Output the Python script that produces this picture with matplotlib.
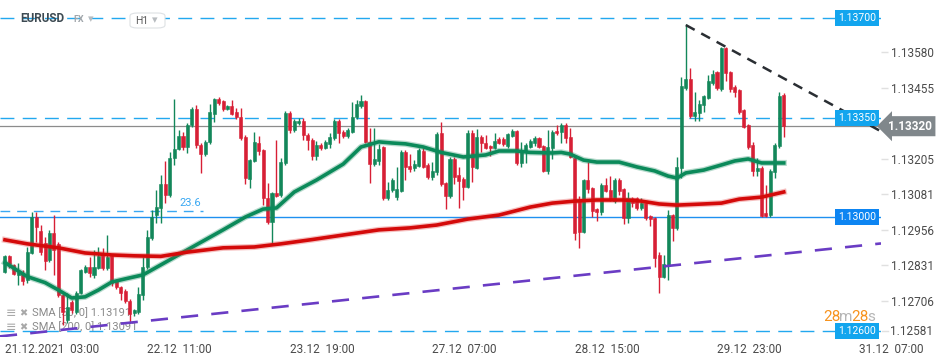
import matplotlib
matplotlib.use('Agg')
import matplotlib.pyplot as plt
import matplotlib.transforms as mtrans
from matplotlib.patches import FancyBboxPatch
import numpy as np

plt.rcParams['font.family'] = ['Roboto', 'DejaVu Sans']

# hourly EURUSD candles (open, high, low, close)
opens = [
    1.12808, 1.12865, 1.12834, 1.12798, 1.12806, 1.12780, 1.12875, 1.13001, 1.12952, 1.12910,
    1.12850, 1.12945, 1.12907, 1.12728, 1.12640, 1.12703, 1.12668, 1.12735, 1.12808, 1.12826,
    1.12798, 1.12822, 1.12875, 1.12822, 1.12865, 1.12775, 1.12757, 1.12740, 1.12707, 1.12664,
    1.12668, 1.12728, 1.12827, 1.12926, 1.13008, 1.13032, 1.13117, 1.13079, 1.13208, 1.13240,
    1.13286, 1.13246, 1.13324, 1.13380, 1.13254, 1.13222, 1.13264, 1.13363, 1.13416, 1.13408,
    1.13380, 1.13391, 1.13370, 1.13353, 1.13283, 1.13135, 1.13199, 1.13260, 1.13236, 1.13067,
    1.12985, 1.13085, 1.13079, 1.13190, 1.13365, 1.13307, 1.13331, 1.13338, 1.13289, 1.13272,
    1.13216, 1.13254, 1.13245, 1.13258, 1.13278, 1.13338, 1.13300, 1.13287, 1.13300, 1.13351,
    1.13391, 1.13408, 1.13266, 1.13187, 1.13199, 1.13247, 1.13067, 1.13096, 1.13073, 1.13093,
    1.13228, 1.13180, 1.13174, 1.13182, 1.13233, 1.13184, 1.13142, 1.13158, 1.13296, 1.13120,
    1.13076, 1.13205, 1.13149, 1.13134, 1.13108, 1.13296, 1.13174, 1.13281, 1.13260, 1.13250,
    1.13245, 1.13275, 1.13275, 1.13252, 1.13287, 1.13303, 1.13192, 1.13229, 1.13248, 1.13262,
    1.13278, 1.13250, 1.13163, 1.13245, 1.13303, 1.13299, 1.13324, 1.13282, 1.13207, 1.13061,
    1.12950, 1.13131, 1.13102, 1.13028, 1.13018, 1.13114, 1.13096, 1.13058, 1.13131, 1.13098,
    1.12997, 1.13067, 1.13067, 1.13032, 1.13050, 1.13005, 1.12997, 1.12868, 1.12792, 1.12830,
    1.13008, 1.12962, 1.13174, 1.13455, 1.13486, 1.13357, 1.13366, 1.13394, 1.13420, 1.13471,
    1.13509, 1.13451, 1.13593, 1.13509, 1.13459, 1.13447, 1.13377, 1.13324, 1.13254, 1.13164,
    1.13172, 1.13014, 1.13008, 1.13160, 1.13252, 1.13430,
]
highs = [
    1.12868, 1.12868, 1.12838, 1.12840, 1.12815, 1.12896, 1.13019, 1.13020, 1.12973, 1.12931,
    1.12956, 1.13008, 1.12915, 1.12732, 1.12735, 1.12710, 1.12740, 1.12820, 1.12833, 1.12862,
    1.12886, 1.12896, 1.12893, 1.12937, 1.12870, 1.12780, 1.12760, 1.12748, 1.12712, 1.12680,
    1.12757, 1.12862, 1.12956, 1.13026, 1.13096, 1.13149, 1.13198, 1.13231, 1.13416, 1.13307,
    1.13301, 1.13330, 1.13386, 1.13395, 1.13260, 1.13270, 1.13398, 1.13420, 1.13422, 1.13412,
    1.13395, 1.13412, 1.13385, 1.13385, 1.13288, 1.13205, 1.13299, 1.13287, 1.13240, 1.13120,
    1.13090, 1.13272, 1.13208, 1.13372, 1.13373, 1.13345, 1.13350, 1.13350, 1.13297, 1.13280,
    1.13268, 1.13260, 1.13270, 1.13296, 1.13345, 1.13345, 1.13305, 1.13312, 1.13404, 1.13412,
    1.13430, 1.13412, 1.13315, 1.13315, 1.13256, 1.13252, 1.13125, 1.13137, 1.13178, 1.13235,
    1.13235, 1.13222, 1.13201, 1.13243, 1.13243, 1.13190, 1.13195, 1.13300, 1.13334, 1.13125,
    1.13212, 1.13212, 1.13178, 1.13140, 1.13307, 1.13305, 1.13310, 1.13288, 1.13289, 1.13255,
    1.13296, 1.13282, 1.13282, 1.13296, 1.13310, 1.13305, 1.13264, 1.13260, 1.13275, 1.13285,
    1.13283, 1.13255, 1.13305, 1.13307, 1.13324, 1.13330, 1.13330, 1.13313, 1.13212, 1.13075,
    1.13135, 1.13193, 1.13107, 1.13032, 1.13120, 1.13137, 1.13145, 1.13137, 1.13137, 1.13103,
    1.13090, 1.13072, 1.13072, 1.13067, 1.13055, 1.13010, 1.13001, 1.12880, 1.12868, 1.13026,
    1.13013, 1.13213, 1.13494, 1.13678, 1.13523, 1.13441, 1.13412, 1.13430, 1.13500, 1.13517,
    1.13515, 1.13597, 1.13599, 1.13515, 1.13465, 1.13452, 1.13382, 1.13328, 1.13265, 1.13207,
    1.13180, 1.13114, 1.13170, 1.13260, 1.13439, 1.13437,
]
lows = [
    1.12805, 1.12822, 1.12798, 1.12763, 1.12763, 1.12770, 1.12870, 1.12914, 1.12868, 1.12815,
    1.12845, 1.12798, 1.12720, 1.12622, 1.12630, 1.12665, 1.12660, 1.12730, 1.12805, 1.12792,
    1.12788, 1.12818, 1.12815, 1.12815, 1.12760, 1.12750, 1.12710, 1.12698, 1.12630, 1.12655,
    1.12660, 1.12710, 1.12820, 1.12920, 1.12980, 1.12980, 1.13050, 1.13070, 1.13184, 1.13235,
    1.13236, 1.13226, 1.13318, 1.13245, 1.13155, 1.13215, 1.13258, 1.13336, 1.13394, 1.13375,
    1.13376, 1.13360, 1.13345, 1.13270, 1.13116, 1.13102, 1.13195, 1.13219, 1.13043, 1.12978,
    1.12903, 1.13070, 1.13070, 1.13185, 1.13295, 1.13300, 1.13325, 1.13272, 1.13236, 1.13201,
    1.13201, 1.13238, 1.13240, 1.13243, 1.13272, 1.13260, 1.13280, 1.13280, 1.13295, 1.13345,
    1.13385, 1.13260, 1.13120, 1.13180, 1.13184, 1.13060, 1.13060, 1.13090, 1.13061, 1.13088,
    1.13131, 1.13160, 1.13163, 1.13178, 1.13172, 1.13135, 1.13131, 1.13150, 1.13110, 1.13028,
    1.13067, 1.13116, 1.13032, 1.13061, 1.13102, 1.13125, 1.13168, 1.13230, 1.13240, 1.13215,
    1.13240, 1.13256, 1.13250, 1.13245, 1.13282, 1.13185, 1.13178, 1.13192, 1.13243, 1.13252,
    1.13243, 1.13158, 1.13152, 1.13205, 1.13290, 1.13260, 1.13260, 1.13208, 1.12921, 1.12893,
    1.12945, 1.13087, 1.13003, 1.12988, 1.13010, 1.13088, 1.13058, 1.13052, 1.13079, 1.12977,
    1.12979, 1.13038, 1.13025, 1.13025, 1.12990, 1.12971, 1.12827, 1.12736, 1.12786, 1.12780,
    1.12917, 1.12956, 1.13137, 1.13447, 1.13350, 1.13338, 1.13338, 1.13371, 1.13415, 1.13466,
    1.13447, 1.13444, 1.13480, 1.13439, 1.13424, 1.13363, 1.13312, 1.13240, 1.13146, 1.13146,
    1.13000, 1.13000, 1.13001, 1.13137, 1.13245, 1.13283,
]
closes = [
    1.12865, 1.12837, 1.12801, 1.12808, 1.12777, 1.12878, 1.13001, 1.12966, 1.12878, 1.12847,
    1.12945, 1.12886, 1.12728, 1.12668, 1.12685, 1.12675, 1.12735, 1.12815, 1.12826, 1.12805,
    1.12826, 1.12866, 1.12822, 1.12862, 1.12768, 1.12757, 1.12733, 1.12705, 1.12661, 1.12675,
    1.12731, 1.12827, 1.12932, 1.13003, 1.13038, 1.13117, 1.13079, 1.13210, 1.13240, 1.13286,
    1.13246, 1.13324, 1.13380, 1.13254, 1.13222, 1.13264, 1.13371, 1.13416, 1.13400, 1.13380,
    1.13391, 1.13364, 1.13353, 1.13278, 1.13137, 1.13201, 1.13264, 1.13233, 1.13067, 1.12985,
    1.13085, 1.13076, 1.13193, 1.13365, 1.13307, 1.13338, 1.13338, 1.13289, 1.13272, 1.13216,
    1.13254, 1.13245, 1.13264, 1.13282, 1.13338, 1.13296, 1.13287, 1.13307, 1.13351, 1.13398,
    1.13408, 1.13266, 1.13187, 1.13205, 1.13240, 1.13067, 1.13096, 1.13131, 1.13100, 1.13228,
    1.13176, 1.13170, 1.13187, 1.13236, 1.13178, 1.13142, 1.13163, 1.13293, 1.13116, 1.13076,
    1.13205, 1.13142, 1.13129, 1.13108, 1.13297, 1.13178, 1.13281, 1.13260, 1.13245, 1.13245,
    1.13268, 1.13262, 1.13257, 1.13292, 1.13303, 1.13192, 1.13236, 1.13254, 1.13268, 1.13280,
    1.13248, 1.13163, 1.13248, 1.13301, 1.13296, 1.13324, 1.13278, 1.13213, 1.12944, 1.12948,
    1.13131, 1.13099, 1.13023, 1.13018, 1.13114, 1.13094, 1.13063, 1.13131, 1.13094, 1.12997,
    1.13069, 1.13050, 1.13032, 1.13050, 1.12997, 1.12994, 1.12859, 1.12792, 1.12835, 1.13008,
    1.12964, 1.13176, 1.13461, 1.13486, 1.13357, 1.13369, 1.13397, 1.13426, 1.13479, 1.13502,
    1.13455, 1.13593, 1.13506, 1.13451, 1.13441, 1.13369, 1.13318, 1.13248, 1.13164, 1.13174,
    1.13006, 1.13005, 1.13163, 1.13254, 1.13426, 1.13320,
]

# moving averages sampled along the drawn curves (candle index, price)
sma50_idx = [0, 5, 9, 12, 15, 18, 21, 24, 27, 31, 35, 41, 49, 54, 58, 61, 65, 70, 76, 80,
             84, 87, 90, 94, 98, 103, 108, 111, 115, 118, 123, 125, 127, 130, 133, 138, 142, 146, 149, 151,
             153, 157, 161, 164, 167, 170, 173, 175]
sma50 = [1.12841, 1.12792, 1.12771, 1.12745, 1.12717, 1.12721, 1.12745, 1.12773, 1.12784, 1.12798,
         1.12833, 1.12886, 1.12956, 1.13001, 1.13029, 1.13033, 1.13089, 1.13131, 1.13187, 1.13247,
         1.13265, 1.13261, 1.13258, 1.13247, 1.13228, 1.13212, 1.13219, 1.13233, 1.13233, 1.13228,
         1.13226, 1.13228, 1.13222, 1.13201, 1.13194, 1.13194, 1.13177, 1.13163, 1.13145, 1.13138,
         1.13156, 1.13166, 1.13184, 1.13198, 1.13205, 1.13191, 1.13191, 1.13191]
sma200_idx = [0, 5, 12, 18, 24, 29, 35, 41, 49, 56, 62, 69, 76, 84, 91, 97, 104, 111, 118, 123,
              128, 133, 139, 143, 147, 151, 157, 161, 165, 170, 175]
sma200 = [1.12921, 1.12907, 1.12893, 1.12875, 1.12868, 1.12865, 1.12863, 1.12878, 1.12893, 1.12896,
          1.12907, 1.12922, 1.12938, 1.12956, 1.12963, 1.12973, 1.12994, 1.13008, 1.13036, 1.13050,
          1.13057, 1.13061, 1.13061, 1.13057, 1.13047, 1.13043, 1.13047, 1.13050, 1.13064, 1.13071,
          1.13089]

# drawn objects
levels = [1.13700, 1.13350, 1.13000, 1.12600]
last_price = 1.13320
fib_level = 1.13023
support_pts = [(0, 1.12584), (196, 1.12907)]
resist_pts = [(153, 1.13675), (196.6, 1.13304)]

xtick_pos = [0, 32, 64, 96, 128, 160, 192]
xtick_labels = ['21.12.2021  03:00', '22.12  11:00', '23.12  19:00', '27.12  07:00',
                '28.12  15:00', '29.12  23:00', '31.12  07:00']
ytick_vals = [1.13580, 1.13455, 1.13205, 1.13081, 1.12956, 1.12831, 1.12706]

GREEN = '#13875a'
RED = '#d71f35'
LBLUE = '#22a8ef'
TXT = '#4a4a4a'

fig = plt.figure(figsize=(9.5, 3.61), dpi=100)
fig.patch.set_facecolor('white')
ax = fig.add_axes([0, 24 / 361, 881 / 950, 337 / 361])
ax.set_xlim(-1.12, 196.85)
ax.set_ylim(1.12580, 1.13763)
for s in ax.spines.values():
    s.set_visible(False)

o = np.array(opens)
h = np.array(highs)
l = np.array(lows)
c = np.array(closes)
idx = np.arange(len(o))
cols = [GREEN if cc >= oo else RED for oo, cc in zip(o, c)]

ax.vlines(idx, l, h, colors=cols, lw=1.0, zorder=3)
ax.bar(idx, np.maximum(np.abs(c - o), 0.00003), bottom=np.minimum(o, c), width=0.68,
       color=cols, edgecolor=cols, linewidth=0.4, zorder=4)

# moving averages
ax.plot(sma50_idx, sma50, color=GREEN, lw=4.4, alpha=0.3, zorder=5, solid_joinstyle='round')
ax.plot(sma50_idx, sma50, color='#0b8a5a', lw=2.6, zorder=5, solid_joinstyle='round')
ax.plot(sma200_idx, sma200, color='#e03030', lw=4.4, alpha=0.3, zorder=5, solid_joinstyle='round')
ax.plot(sma200_idx, sma200, color='#d40a0a', lw=2.6, zorder=5, solid_joinstyle='round')

# horizontal levels
blend = mtrans.blended_transform_factory(ax.transAxes, ax.transData)
for lv in levels:
    if lv == 1.13000:
        ax.axhline(lv, color='#1e90f0', lw=1.0, zorder=2)
        box_c = '#0d85f2'
    else:
        ax.axhline(lv, color=LBLUE, lw=1.0, ls=(0, (10, 6)), zorder=2)
        box_c = '#12a5ee'
    ax.text(1 - 5 / 881, lv, f'{lv:.5f}', transform=blend, ha='right', va='center',
            fontsize=7.5, color='white', zorder=8,
            bbox=dict(boxstyle='square,pad=0.28', fc=box_c, ec='none'))

ax.axhline(last_price, color='#8c8c8c', lw=0.9, zorder=2)
ax.text(1 + 7 / 881, last_price, f'{last_price:.5f}', transform=blend, ha='left', va='center',
        fontsize=8.5, fontweight='bold', color='white', zorder=9, clip_on=False,
        bbox=dict(boxstyle='larrow,pad=0.3', fc='#80878b', ec='none'))

# fibo 23.6
ax.plot([-1.2, 44.5], [fib_level, fib_level], color='#3aa8f2', lw=1.0, ls=(0, (7, 5)), zorder=2)
ax.text(41.6, 1.13050, '23.6', color='#3aa8f2', fontsize=8, ha='center', va='center', zorder=2)

# trend lines
ax.axline(support_pts[0], support_pts[1], color='#6a3cc4', lw=1.9, ls=(0, (6.5, 5)), zorder=6)
ax.plot([resist_pts[0][0], resist_pts[1][0]], [resist_pts[0][1], resist_pts[1][1]],
        color='#2a2e33', lw=1.8, ls=(0, (4, 3)), zorder=6)

# axes ticks
ax.yaxis.tick_right()
ax.set_yticks(ytick_vals)
ax.set_yticklabels([f'{v:.5f}' for v in ytick_vals])
ax.tick_params(axis='y', length=5, width=1, color='#e0e0e0', labelcolor=TXT, labelsize=8.5, pad=2)
ax.set_xticks(xtick_pos)
ax.set_xticklabels(xtick_labels)
for lbl in ax.get_xticklabels():
    lbl.set_ha('left')
ax.tick_params(axis='x', length=0, labelcolor=TXT, labelsize=8.5, pad=4)

# bottom price label (pushed up into view)
off = mtrans.offset_copy(blend, fig=fig, x=9, y=0, units='dots')
ax.text(1.0, 1.12600, '1.12581', transform=off, ha='left', va='center', fontsize=8.5,
        color=TXT, clip_on=False)
ax.plot([1 + 1 / 881, 1 + 7 / 881], [1.12600, 1.12600], transform=blend, color='#e0e0e0',
        lw=1, clip_on=False)


def fx(px):
    return px / 950


def fy(py):
    return 1 - py / 361


# header
fig.text(fx(20), fy(19), 'EURUSD', fontsize=8.5, fontweight='bold', color='#3d4a52', va='center')
fig.text(fx(73), fy(20), 'FX', fontsize=6.5, fontweight='bold', color='#a0a6ab', va='center')
fig.text(fx(88), fy(19), '▾', fontsize=8, color='#b8bcc0', va='center')
fig.patches.append(FancyBboxPatch((fx(130), fy(28)), fx(35), 15 / 361,
                                  boxstyle='round,pad=0,rounding_size=0.008',
                                  transform=fig.transFigure, fc='white', ec='#dde1e4', lw=0.8))
fig.text(fx(135), fy(20.5), 'H1', fontsize=7.5, color='#5a5a5a', va='center')
fig.text(fx(152), fy(20), '▾', fontsize=8, color='#b8bcc0', va='center')

# indicator legend, drawn beneath candles
for k, txt in enumerate(['SMA [50, 0] 1.13191', 'SMA [200, 0] 1.13091']):
    yy = fy(313 + 14 * k)
    ax.text(fx(6), yy, '≡', transform=fig.transFigure, fontsize=9, color='#a8a8a8',
            va='center', zorder=1, clip_on=False)
    ax.text(fx(19), yy, '✖', transform=fig.transFigure, fontsize=7, color='#a8a8a8',
            va='center', zorder=1, clip_on=False)
    ax.text(fx(32), yy, txt, transform=fig.transFigure, fontsize=8, color='#8a8a8a',
            va='center', zorder=1, clip_on=False)

# candle countdown
for xp, t, col in [(823, '28', '#f7931e'), (839, 'm', '#b5b5b5'), (851, '28', '#f7931e'),
                   (867, 's', '#b5b5b5')]:
    fig.text(fx(xp), fy(317), t, fontsize=11, color=col, va='center')

fig.savefig('out.png', dpi=100)
